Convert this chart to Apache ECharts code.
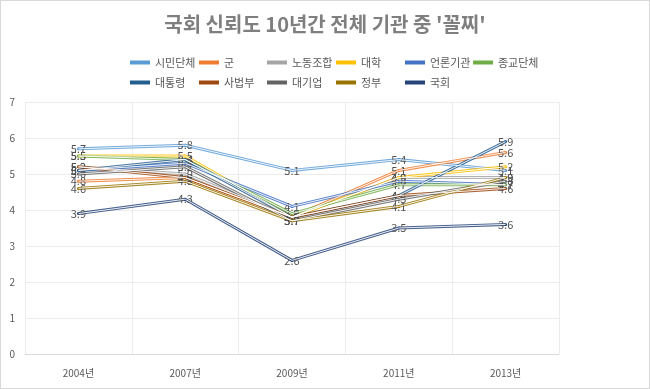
<!DOCTYPE html>
<html><head><meta charset="utf-8">
<script src="https://cdn.jsdelivr.net/npm/echarts@6/dist/echarts.min.js"></script>
<style>html,body{margin:0;padding:0;background:#fff}#c{width:648px;height:387px;border:1px solid #d9d9d9;}</style>
</head><body><div id="c"></div>
<script>
const categories = ['2004년','2007년','2009년','2011년','2013년'];
const names = ['시민단체','군','노동조합','대학','언론기관','종교단체','대통령','사법부','대기업','정부','국회'];
const 시민단체 = [5.7, 5.8, 5.1, 5.4, 5.1];
const 군 = [4.8, 4.9, 3.8, 5.1, 5.6];
const 노동조합 = [5.2, 5.0, 3.8, 4.9, 4.9];
const 대학 = [5.5, 5.5, 3.8, 4.9, 5.2];
const 언론기관 = [5.1, 5.3, 4.1, 4.8, 4.7];
const 종교단체 = [5.5, 5.4, 3.9, 4.7, 4.7];
const 대통령 = [5.1, 5.4, 3.8, 4.4, 5.9];
const 사법부 = [5.2, 4.9, 3.8, 4.4, 4.6];
const 대기업 = [5.0, 5.2, 3.7, 4.3, 4.8];
const 정부 = [4.6, 4.8, 3.7, 4.1, 4.9];
const 국회 = [3.9, 4.3, 2.6, 3.5, 3.6];
const values = [시민단체,군,노동조합,대학,언론기관,종교단체,대통령,사법부,대기업,정부,국회];
const colors = ['#5B9BD5','#ED7D31','#A5A5A5','#FFC000','#4472C4','#70AD47','#255E91','#9E480E','#636363','#997300','#264478'];

const series = [];
names.forEach((n,i)=>{
  series.push({
    name:n, type:'line', data:values[i], color:colors[i],
    symbol:'circle', symbolSize:3, z:2,
    lineStyle:{width:3, color:colors[i], opacity:0.85},
    itemStyle:{color:colors[i]},
    label:{show:true, position:'inside', color:'#505050', fontSize:11, fontFamily:'Noto Sans CJK KR', formatter:p=>p.value.toFixed(1)}
  });
  series.push({
    name:n, type:'line', data:values[i], symbol:'none', z:3, silent:true,
    lineStyle:{width:1, color:'rgba(255,255,255,0.9)'}
  });
});

const legendX = [124,193,261,330,399,467];
const legends = names.map((n,i)=>({
  data:[n], left: legendX[i%6], top: i<6 ? 51 : 71, itemGap:0, itemWidth:20, itemHeight:4, icon:'rect',
  textStyle:{color:'#595959', fontSize:11, fontFamily:'Noto Sans CJK KR'}
}));

const chart = echarts.init(document.getElementById('c'));
chart.setOption({
  animation:false,
  title:{text:"국회 신뢰도 10년간 전체 기관 중 '꼴찌'", left:'center', top:8,
    textStyle:{fontSize:20, fontWeight:'bold', color:'#7f7f7f', fontFamily:'Noto Sans CJK KR'}},
  legend:legends,
  grid:{left:24, right:90, top:101, bottom:34},
  xAxis:{type:'category', data:categories, boundaryGap:true,
    axisLine:{lineStyle:{color:'#d9d9d9'}}, axisTick:{show:false},
    splitLine:{show:true, lineStyle:{color:'#ececec'}},
    axisLabel:{color:'#595959', fontSize:10, margin:14, fontFamily:'Noto Sans CJK KR'}},
  yAxis:{type:'value', min:0, max:7, interval:1,
    axisLine:{show:false}, axisTick:{show:false},
    splitLine:{lineStyle:{color:'#ececec'}},
    axisLabel:{color:'#595959', fontSize:10, margin:10, fontFamily:'Noto Sans CJK KR'}},
  series:series
});
</script></body></html>
